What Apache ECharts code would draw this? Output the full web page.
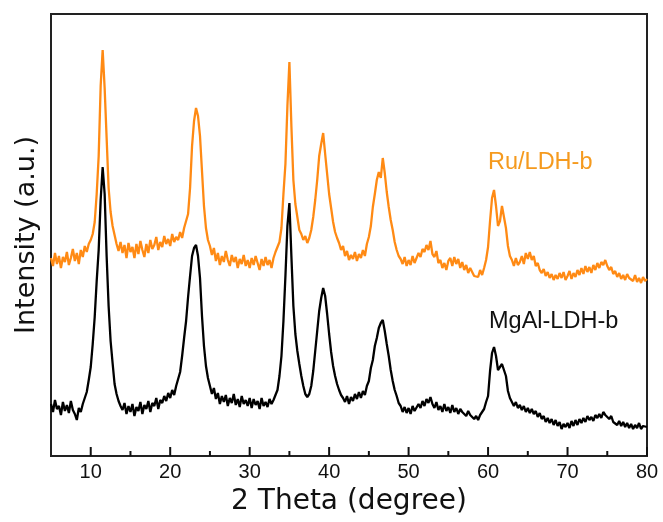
<!DOCTYPE html>
<html>
<head>
<meta charset="utf-8">
<script src="https://cdn.jsdelivr.net/npm/echarts@6/dist/echarts.min.js"></script>
<style>html,body{margin:0;padding:0;background:#fff}#c{width:663px;height:522px}</style>
</head>
<body>
<div id="c"></div>
<script>
// 2θ sampled from 5° to 80° every 0.25°; intensities in arbitrary units (offset traces)
const xMajorTicks = [10, 20, 30, 40, 50, 60, 70, 80];
const xMinorTicks = [15, 25, 35, 45, 55, 65, 75];
const seriesNames = ['Ru/LDH-b', 'MgAl-LDH-b'];

const ruLdh = [
  198,190,203,192, 200,188,199,194, 204,191,198,207, 195,203,192,206, 199,210,204,212,
  216,222,234,262, 300,370,406,368, 318,268,244,230, 221,212,205,214, 203,211,198,213,
  204,209,198,212, 202,215,206,199, 212,203,216,207, 211,219,206,214, 209,220,212,217,
  210,222,214,219, 216,224,218,228, 230,242,268,310, 335,348,340,320, 285,250,228,216,
  210,201,208,195, 203,191,200,194, 205,196,190,201, 194,199,188,197, 192,201,190,196,
  188,198,191,200, 193,186,197,190, 199,191,196,188, 198,204,203,214, 228,262,292,350,
  394,330,276,252, 239,226,222,216, 220,213,218,226, 239,256,276,300, 312,323,302,282,
  262,248,234,224, 218,213,206,210, 200,205,196,201, 197,204,195,202, 198,206,200,212,
  219,230,249,262, 276,284,278,298, 283,264,249,236, 226,214,206,200, 197,192,199,190,
  196,191,200,193, 198,203,199,207, 204,211,206,215, 202,199,205,193, 196,188,193,186,
  195,198,190,199, 192,197,188,194, 186,191,183,188, 184,180,182,179, 186,181,188,196,
  209,235,258,266, 250,230,235,250, 252,228,210,200, 196,190,198,191, 194,200,192,203,
  197,204,196,200, 190,193,186,183, 187,180,184,178, 182,176,181,177, 183,178,184,176,
  180,185,177,183, 179,186,181,188, 182,190,184,189, 183,191,186,193, 188,194,191,196,
  190,186,189,182, 185,179,183,177, 181,176,182,178, 180,175,181,174, 178,173,179,175,
  177
];

const mgAlLdh = [
  52,44,56,47, 50,41,54,45, 51,43,55,46, 42,36,48,44, 52,58,64,76,
  89,112,139,175, 206,256,289,262, 200,150,115,93, 72,62,55,50, 46,53,42,50,
  44,52,40,49, 45,54,42,51, 47,55,44,53, 50,58,47,56, 53,60,55,63,
  58,66,61,70, 72,84,100,118, 135,159,180,200, 208,211,200,178, 140,110,90,78,
  70,62,68,57, 63,52,60,54, 61,50,58,53, 62,51,57,49, 60,52,56,50,
  58,48,57,51, 55,47,58,50, 54,49,57,52, 56,61,66,80, 100,135,180,230,
  253,200,150,122, 105,92,80,70, 62,59,62,70, 85,105,125,145, 158,168,160,142,
  122,104,90,80, 72,66,61,58, 54,60,52,59, 55,62,57,64, 58,65,61,70,
  75,88,96,110, 118,128,133,136, 125,112,100,86, 75,66,60,53, 50,44,49,43,
  48,42,50,45, 47,52,48,55, 50,57,53,59, 52,48,54,46, 50,44,52,45,
  49,43,51,44, 48,42,47,44, 46,40,45,41, 43,37,40,36, 41,44,47,54,
  60,85,103,109, 100,86,85,92, 92,80,65,58, 56,50,54,48, 51,46,50,44,
  48,43,47,42, 45,39,43,37, 40,34,38,33, 37,31,36,30, 34,27,32,29,
  33,28,35,30, 36,31,37,33, 38,34,40,36, 39,35,41,38, 42,38,44,41,
  43,37,40,34, 36,31,35,30, 34,29,33,28, 32,27,31,28, 33,27,30,28,
  29
];

const twoTheta = ruLdh.map((_, i) => 5 + i * 0.25);
const pairs = arr => arr.map((v, i) => [twoTheta[i], v]);

// inward ticks: [position, kind] with kind 1 = major, 0 = minor
const tickData = xMajorTicks.map(x => [x, 1]).concat(xMinorTicks.map(x => [x, 0]));

const chart = echarts.init(document.getElementById('c'), null, {renderer: 'canvas'});
chart.setOption({
  animation: false,
  backgroundColor: '#fff',
  grid: {left: 51, right: 16, top: 14, bottom: 66, show: true, borderColor: '#222', borderWidth: 2, backgroundColor: 'transparent'},
  xAxis: {
    type: 'value', min: 5, max: 80, position: 'bottom',
    axisLine: {show: true, onZero: false, lineStyle: {color: '#222', width: 2}},
    axisTick: {show: false},
    axisLabel: {show: true, customValues: xMajorTicks, margin: 6, color: '#111', fontSize: 20, fontFamily: 'Liberation Sans'},
    splitLine: {show: false},
    name: '2 Theta (degree)', nameLocation: 'middle', nameGap: 32,
    nameTextStyle: {fontSize: 28, color: '#111', fontFamily: 'DejaVu Sans'}
  },
  yAxis: {
    type: 'value', min: 0, max: 442,
    axisLine: {show: false}, axisTick: {show: false}, axisLabel: {show: false}, splitLine: {show: false},
    name: 'Intensity (a.u.)', nameLocation: 'middle', nameGap: 11,
    nameTextStyle: {fontSize: 27, color: '#111', fontFamily: 'DejaVu Sans'}
  },
  series: [{
    name: seriesNames[0], type: 'line', data: pairs(ruLdh), showSymbol: false, silent: true,
    lineStyle: {color: '#FF8A14', width: 2.3}
  }, {
    name: seriesNames[1], type: 'line', data: pairs(mgAlLdh), showSymbol: false, silent: true,
    lineStyle: {color: '#000', width: 2.3}
  }, {
    name: 'ticks', type: 'custom', data: tickData, silent: true, clip: false, z: 10,
    renderItem: function (params, api) {
      const base = api.coord([api.value(0), 0]);
      const len = api.value(1) === 1 ? 9 : 5;
      return {
        type: 'line',
        shape: {x1: base[0], y1: base[1], x2: base[0], y2: base[1] - len},
        style: {stroke: '#111', lineWidth: 2}
      };
    }
  }],
  graphic: [{
    type: 'text', left: 488, top: 151,
    style: {text: seriesNames[0], fill: '#F59A1E', fontSize: 23.5, fontFamily: 'Liberation Sans'}
  }, {
    type: 'text', left: 489, top: 310,
    style: {text: seriesNames[1], fill: '#111', fontSize: 23.5, fontFamily: 'Liberation Sans'}
  }]
});
</script>
</body>
</html>
